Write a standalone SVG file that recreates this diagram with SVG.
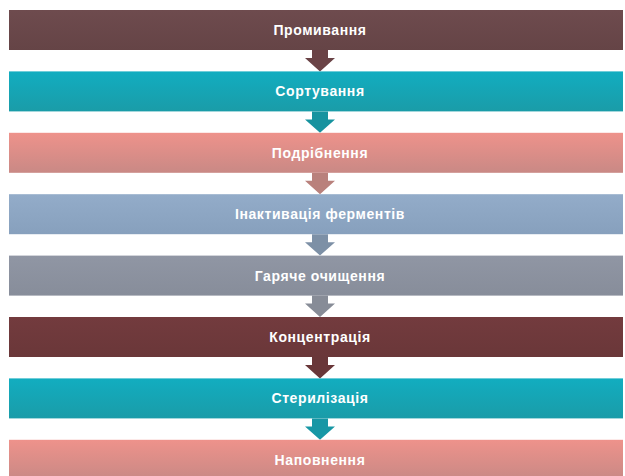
<svg xmlns="http://www.w3.org/2000/svg" width="625" height="476" viewBox="0 0 625 476">
<defs>
<linearGradient id="gBrown" x1="0" y1="0" x2="0" y2="1"><stop offset="0" stop-color="#6e4b4e"/><stop offset="1" stop-color="#654446"/></linearGradient>
<linearGradient id="gTeal" x1="0" y1="0" x2="0" y2="1"><stop offset="0" stop-color="#12adc0"/><stop offset="1" stop-color="#1a9ca8"/></linearGradient>
<linearGradient id="gSalmon" x1="0" y1="0" x2="0" y2="1"><stop offset="0" stop-color="#ee928b"/><stop offset="1" stop-color="#c98985"/></linearGradient>
<linearGradient id="gBlue" x1="0" y1="0" x2="0" y2="1"><stop offset="0" stop-color="#93acc9"/><stop offset="1" stop-color="#87a0bd"/></linearGradient>
<linearGradient id="gGray" x1="0" y1="0" x2="0" y2="1"><stop offset="0" stop-color="#9096a4"/><stop offset="1" stop-color="#878d9a"/></linearGradient>
<linearGradient id="gRed" x1="0" y1="0" x2="0" y2="1"><stop offset="0" stop-color="#733b3e"/><stop offset="1" stop-color="#6a3739"/></linearGradient>
</defs>
<style>
.box{stroke:none}
.lbl{font-family:"Liberation Sans",Arial,sans-serif;font-weight:bold;font-size:14px;letter-spacing:0.6px;fill:#ffffff;text-anchor:middle}
</style>
<rect width="625" height="476" fill="#ffffff"/>
<g id="connectors">
<path d="M312,50 H328 V58 H335 L320,71.4 L305,58 H312 Z" fill="#6a4346"/>
<path d="M312,111.4 H328 V119.4 H335 L320,132.8 L305,119.4 H312 Z" fill="#17939f"/>
<path d="M312,172.8 H328 V180.8 H335 L320,194.2 L305,180.8 H312 Z" fill="#b9817c"/>
<path d="M312,234.2 H328 V242.2 H335 L320,255.6 L305,242.2 H312 Z" fill="#7d90a6"/>
<path d="M312,295.6 H328 V303.6 H335 L320,317 L305,303.6 H312 Z" fill="#878c97"/>
<path d="M312,357 H328 V365 H335 L320,378.4 L305,365 H312 Z" fill="#693739"/>
<path d="M312,418.4 H328 V426.4 H335 L320,439.8 L305,426.4 H312 Z" fill="#1797a5"/>
</g>
<g id="n1"><rect class="box" x="9" y="10" width="614" height="40" fill="url(#gBrown)"/><text class="lbl" x="320" y="35">Промивання</text></g>
<g id="n2"><rect class="box" x="9" y="71.4" width="614" height="40" fill="url(#gTeal)"/><text class="lbl" x="320" y="96.4">Сортування</text></g>
<g id="n3"><rect class="box" x="9" y="132.8" width="614" height="40" fill="url(#gSalmon)"/><text class="lbl" x="320" y="157.8">Подрібнення</text></g>
<g id="n4"><rect class="box" x="9" y="194.2" width="614" height="40" fill="url(#gBlue)"/><text class="lbl" x="320" y="219.2">Інактивація ферментів</text></g>
<g id="n5"><rect class="box" x="9" y="255.6" width="614" height="40" fill="url(#gGray)"/><text class="lbl" x="320" y="280.6">Гаряче очищення</text></g>
<g id="n6"><rect class="box" x="9" y="317" width="614" height="40" fill="url(#gRed)"/><text class="lbl" x="320" y="342">Концентрація</text></g>
<g id="n7"><rect class="box" x="9" y="378.4" width="614" height="40" fill="url(#gTeal)"/><text class="lbl" x="320" y="403.4">Стерилізація</text></g>
<g id="n8"><rect class="box" x="9" y="439.8" width="614" height="40" fill="url(#gSalmon)"/><text class="lbl" x="320" y="464.8">Наповнення</text></g>
</svg>
